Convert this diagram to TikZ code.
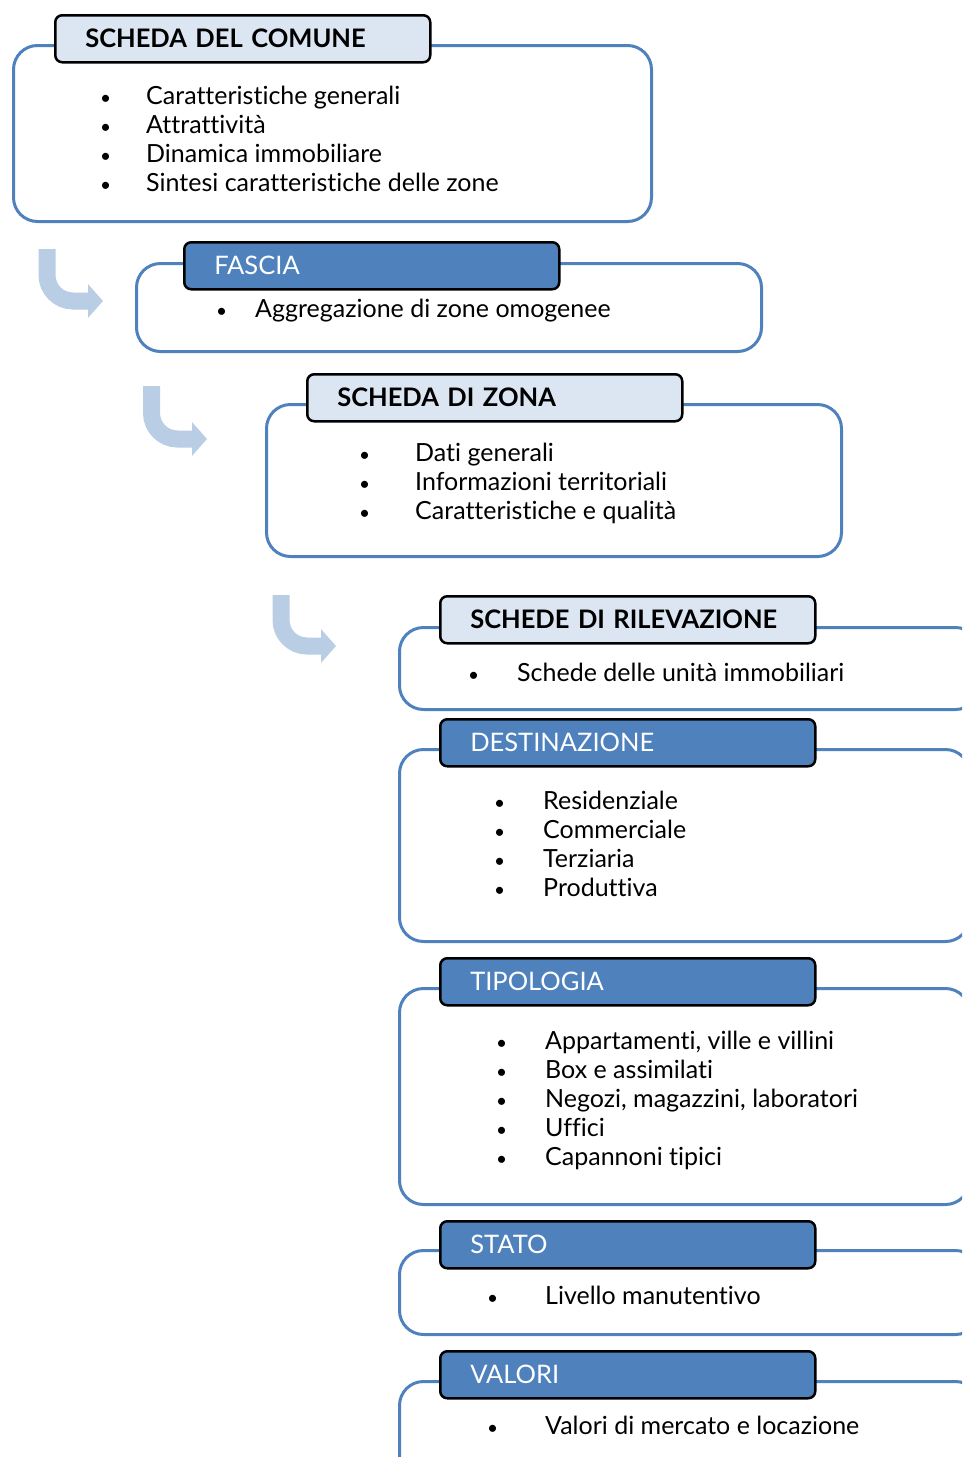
\documentclass[tikz,border=0pt]{standalone}
\usepackage{fontspec}
\setmainfont{Lato}[Ligatures=NoCommon]
\usetikzlibrary{arrows.meta}

\definecolor{boxblue}{HTML}{4F81BD}
\definecolor{headlight}{HTML}{DCE6F2}
\definecolor{arrowblue}{HTML}{B9CDE5}

\tikzset{
  bodybox/.style={draw=boxblue, line width=3pt, rounded corners=24pt,
    anchor=north west, inner sep=0pt},
  headbox/.style={draw=black, line width=2.5pt, rounded corners=7pt,
    anchor=north west, minimum height=47pt, text width=315pt,
    inner xsep=30pt, inner ysep=0pt, align=left,
    font=\fontsize{25.5}{28}\selectfont},
  headlightbox/.style={headbox, fill=headlight, font=\fontsize{25.5}{28}\selectfont\bfseries},
  headdarkbox/.style={headbox, fill=boxblue, text=white},
  dot/.style={anchor=base west, inner sep=0pt, font=\fontsize{19}{28}\selectfont},
  item/.style={anchor=base west, inner sep=0pt, font=\fontsize{25}{28}\selectfont},
  bendarrow/.style={draw=arrowblue, line width=17pt, rounded corners=26pt,
    -{Triangle[width=33pt,length=15pt]}}
}

\begin{document}
\begin{tikzpicture}[x=1pt, y=-1pt]
  \useasboundingbox (0,0) rectangle (962,1457);
  \clip (0,0) rectangle (962,1457);

  % scheda del comune
  \node[bodybox, minimum width=638pt, minimum height=176pt] (comune) at (12,44) {};
  \node[headlightbox] (comunehead) at (54,14) {SCHEDA DEL COMUNE};
  \foreach \t [count=\i from 0] in {Caratteristiche generali, Attrattività,
      Dinamica immobiliare, Sintesi caratteristiche delle zone} {
    \node[dot] at (100,104+29*\i) {\textbullet};
    \node[item] at (146,104+29*\i) {\t};
  }

  % fascia
  \node[bodybox, minimum width=625pt, minimum height=88pt] (fascia) at (135,262) {};
  \node[headdarkbox] (fasciahead) at (183,241) {FASCIA};
  \node[dot] (fasciadot) at (216,317) {\textbullet};
  \node[item] (fasciaitem) at (255,317) {Aggregazione di zone omogenee};

  % scheda di zona
  \node[bodybox, minimum width=575pt, minimum height=152pt] (zona) at (265,403) {};
  \node[headlightbox] (zonahead) at (306,373) {SCHEDA DI ZONA};
  \foreach \t [count=\i from 0] in {Dati generali, Informazioni territoriali,
      Caratteristiche e qualità} {
    \node[dot] at (359,461+29*\i) {\textbullet};
    \node[item] at (415,461+29*\i) {\t};
  }

  % schede di rilevazione
  \node[bodybox, minimum width=580pt, minimum height=82pt] (rilev) at (398,626) {};
  \node[headlightbox] (rilevhead) at (439,595) {SCHEDE DI RILEVAZIONE};
  \node[dot] (rilevdot) at (468,681) {\textbullet};
  \node[item] (rilevitem) at (517,681) {Schede delle unità immobiliari};

  % destinazione
  \node[bodybox, minimum width=570pt, minimum height=192pt] (dest) at (398,748) {};
  \node[headdarkbox] (desthead) at (439,718) {DESTINAZIONE};
  \foreach \t [count=\i from 0] in {Residenziale, Commerciale, Terziaria, Produttiva} {
    \node[dot] at (494,809+29*\i) {\textbullet};
    \node[item] at (543,809+29*\i) {\t};
  }

  % tipologia
  \node[bodybox, minimum width=570pt, minimum height=216pt] (tipo) at (398,987) {};
  \node[headdarkbox] (tipohead) at (439,957) {TIPOLOGIA};
  \foreach \t [count=\i from 0] in {{Appartamenti, ville e villini}, Box e assimilati,
      {Negozi, magazzini, laboratori}, Uffici, Capannoni tipici} {
    \node[dot] at (496,1049+29*\i) {\textbullet};
    \node[item] at (545,1049+29*\i) {\t};
  }

  % stato
  \node[bodybox, minimum width=580pt, minimum height=84pt] (stato) at (398,1249) {};
  \node[headdarkbox] (statohead) at (439,1220) {STATO};
  \node[dot] (statodot) at (487,1304) {\textbullet};
  \node[item] (statoitem) at (545,1304) {Livello manutentivo};

  % valori
  \node[bodybox, minimum width=580pt, minimum height=120pt] (valori) at (398,1380) {};
  \node[headdarkbox] (valorihead) at (439,1350) {VALORI};
  \node[dot] (valoridot) at (487,1434) {\textbullet};
  \node[item] (valoriitem) at (545,1434) {Valori di mercato e locazione};

  % frecce
  \coordinate (a1) at (47,249);
  \coordinate (b1) at (103,301);
  \coordinate (a2) at (151.5,386);
  \coordinate (b2) at (207,439);
  \coordinate (a3) at (281,595);
  \coordinate (b3) at (336,646);
  \draw[bendarrow] (a1) |- (b1);
  \draw[bendarrow] (a2) |- (b2);
  \draw[bendarrow] (a3) |- (b3);
\end{tikzpicture}
\end{document}
